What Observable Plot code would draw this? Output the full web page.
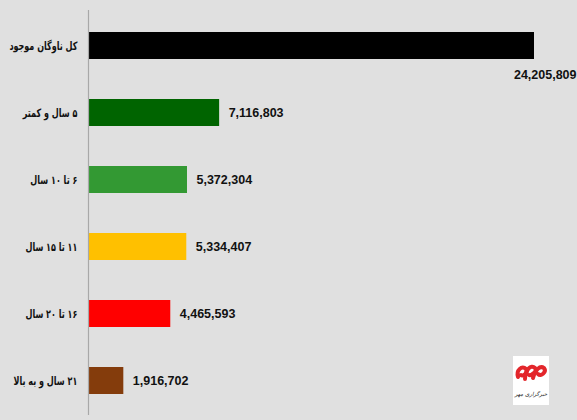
<!DOCTYPE html>
<html>
<head>
<meta charset="utf-8">
<script src="https://cdn.jsdelivr.net/npm/d3@7"></script>
<script src="https://cdn.jsdelivr.net/npm/@observablehq/plot@0.6"></script>
<style>
  html, body { margin: 0; padding: 0; background: #e0e0e0; }
  #wrap { position: relative; width: 577px; height: 420px; overflow: hidden; }
  #logo { position: absolute; left: 513px; top: 356px; }
</style>
</head>
<body>
<div id="wrap"></div>
<script>
const categories = ["کل ناوگان موجود", "۵ سال و کمتر", "۶ تا ۱۰ سال", "۱۱ تا ۱۵ سال", "۱۶ تا ۲۰ سال", "۲۱ سال و به بالا"];
const values = [24205809, 7116803, 5372304, 5334407, 4465593, 1916702];
const colors = ["#000000", "#006400", "#339933", "#ffc000", "#ff0000", "#843c0c"];

const data = categories.map((c, i) => ({cat: c, value: values[i]}));
const fmt = d3.format(",");
const numFont = "'Liberation Sans', Arial, sans-serif";
const faFont = "Tahoma, 'DejaVu Sans', sans-serif";
const marginLeft = 88;
const labelGap = 11;

const chart = Plot.plot({
  width: 577,
  height: 420,
  marginLeft,
  marginRight: 43,
  marginTop: 10,
  marginBottom: 5,
  style: {background: "#e0e0e0"},
  x: {domain: [0, values[0]], axis: null},
  y: {domain: categories, paddingInner: 0.6, paddingOuter: 0.3, axis: null},
  color: {domain: categories, range: colors},
  marks: [
    Plot.barX(data, {x: "value", y: "cat", fill: "cat"}),
    Plot.ruleX([0], {stroke: "#a8a8a8", strokeWidth: 1.2}),
    Plot.text(data, {
      x: 0, y: "cat",
      text: d => "\u202B" + d.cat + "\u202C",
      textAnchor: "end", dx: -labelGap,
      fontWeight: "bold", fontSize: 11.5, fontFamily: faFont, fill: "#111"
    }),
    Plot.text(data.slice(1), {
      x: "value", y: "cat",
      text: d => fmt(d.value),
      textAnchor: "start", dx: 9,
      fontWeight: "bold", fontSize: 12.5, fontFamily: numFont, fill: "#111"
    }),
    Plot.text(data.slice(0, 1), {
      x: "value", y: "cat",
      text: d => fmt(d.value),
      textAnchor: "end", dx: 42, dy: 29,
      fontWeight: "bold", fontSize: 12.5, fontFamily: numFont, fill: "#111"
    })
  ]
});
document.getElementById("wrap").appendChild(chart);

// The fallback Arabic-script font is wider than the original: condense the label group horizontally
const arabicText = Array.from(chart.querySelectorAll("text")).find(t => /[\u0600-\u06FF]/.test(t.textContent));
if (arabicText) {
  const lab = arabicText.parentNode;
  const ns = "http://www.w3.org/2000/svg";
  const wrapper = document.createElementNS(ns, "g");
  lab.parentNode.insertBefore(wrapper, lab);
  wrapper.appendChild(lab);
  const ax = marginLeft - labelGap;
  wrapper.setAttribute("transform", `translate(${ax},0) scale(0.7,1) translate(${-ax},0)`);
}

// Publisher logo (decoration)
const logo = `<svg id="logo" width="36" height="49" viewBox="0 0 36 49" xmlns="http://www.w3.org/2000/svg">
  <rect width="36" height="49" fill="#ffffff"/>
  <g fill="none" stroke="#e3262b" stroke-width="4" stroke-linecap="round">
    <path d="M5 21 C3 14, 9 9, 13 13 C16 16, 10 21, 8 19"/>
    <path d="M12 23 C12 14, 18 8, 22 12 C25 15, 18 20, 16 19"/>
    <path d="M20 22 C22 14, 27 9, 31 12 C34 16, 28 21, 25 18"/>
  </g>
  <text x="18" y="40" text-anchor="middle" font-family="'DejaVu Sans', sans-serif" font-size="5.5" font-style="italic" fill="#222">\u202Bخبرگزاری مهر\u202C</text>
</svg>`;
document.getElementById("wrap").insertAdjacentHTML("beforeend", logo);
</script>
</body>
</html>
